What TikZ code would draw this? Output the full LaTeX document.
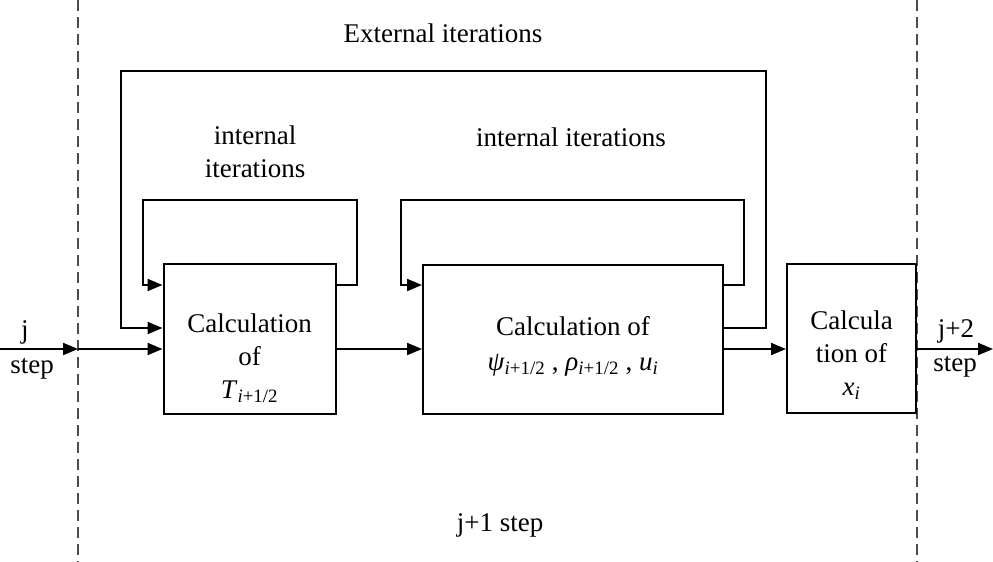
\documentclass[tikz,border=0pt]{standalone}
\usepackage{fontspec}
\setmainfont{Liberation Serif}
\usetikzlibrary{arrows.meta}
\newcommand{\low}[1]{\textsubscript{#1}}
\begin{document}
\begin{tikzpicture}[x=1pt, y=-1pt, line width=2pt,
        font=\fontsize{27}{33}\selectfont,
        main/.style = {draw, rectangle, inner sep=0pt, line width=2pt},
        txt/.style = {align=center, inner sep=0pt},
        flow/.style = {-{Triangle[length=15pt, width=12pt]}},
        sep/.style = {draw=black!70, line width=2pt, dash pattern=on 11pt off 6pt}]
        \useasboundingbox (0,0) rectangle (993,562);
        % step borders
        \draw[sep] (78,0) -- (78,562);
        \draw[sep] (917,0) -- (917,562);
        % blocks
        \node[main, minimum width=172pt, minimum height=150pt] (T) at (249.5,338.5) {};
        \node[main, minimum width=300pt, minimum height=149pt] (psi) at (573,339.5) {};
        \node[main, minimum width=129pt, minimum height=149pt] (x) at (851.5,338.5) {};
        \node[txt] (tT) at ([yshift=-20pt]T.center) {Calculation\\of\\\textit{T}\low{\textit{i}+1/2}};
        \node[txt] (tpsi) at ([yshift=-7pt]psi.center) {Calculation of\\[2pt]\textit{ψ}\low{\textit{i}+1/2} , \textit{ρ}\low{\textit{i}+1/2} , \textit{u}\low{\textit{i}}};
        \node[txt] (tx) at ([yshift=-17pt]x.center) {Calcula\\tion of\\\textit{x}\low{\textit{i}}};
        % labels
        \node[txt, anchor=base] (ext) at (443,42) {External iterations};
        \node[txt] (int1) at (255,152) {internal\\iterations};
        \node[txt, anchor=base] (int2) at (571,146) {internal iterations};
        \node[txt, anchor=base] (mid) at (500,531) {j+1 step};
        \node[txt, anchor=base] (j0) at (25,338) {j};
        \node[txt, anchor=base] (s0) at (32,373) {step};
        \node[txt, anchor=base] (j2) at (956,337) {j+2};
        \node[txt, anchor=base] (s2) at (955,371) {step};
        % main flow
        \coordinate (in) at (0,349);
        \coordinate (d1) at (78,349);
        \coordinate (out) at (993,349);
        \draw[flow] (in) -- (d1);
        \draw[flow] (d1) -- (T.west |- in);
        \draw[flow] (T.east |- in) -- (psi.west |- in);
        \draw[flow] (psi.east |- in) -- (x.west |- in);
        \draw[flow] (x.east |- in) -- (out);
        % internal loops
        \draw[flow] (T.east |- 0,285) -| (357,200) -| (143,285) -- (T.west |- 0,285);
        \draw[flow] (psi.east |- 0,285) -| (744,200) -| (401,285) -- (psi.west |- 0,285);
        % external loop
        \draw[flow] (psi.east |- 0,328) -| (766,70.5) -| (121,328) -- (T.west |- 0,328);
    \end{tikzpicture}
\end{document}
